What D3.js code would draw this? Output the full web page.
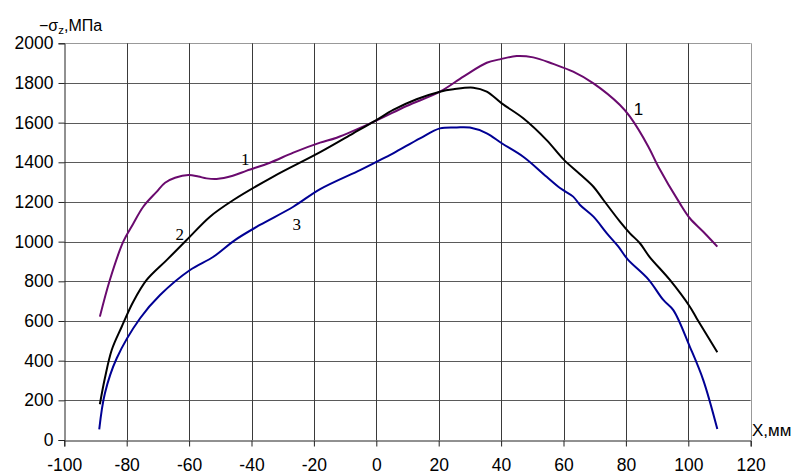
<!DOCTYPE html>
<html>
<head>
<meta charset="utf-8">
<script src="https://cdn.jsdelivr.net/npm/d3@7"></script>
<style>
  body { margin: 0; background: #fff; }
  svg { display: block; font-family: "Liberation Sans", Arial, sans-serif; }
</style>
</head>
<body>
<svg id="chart" width="796" height="475"></svg>
<script>
// data: [x, mm ; -sigma_z, MPa]
var curve1 = [
  [-88.6, 622], [-85.4, 807], [-81.1, 1000], [-78, 1088], [-74.7, 1176],
  [-70.5, 1250], [-67.7, 1297], [-64.5, 1322], [-60.2, 1336], [-57, 1328],
  [-54.4, 1319], [-51.2, 1316], [-46, 1332], [-41.5, 1358], [-34.1, 1398],
  [-26.6, 1449], [-18, 1499], [-12.7, 1524], [0, 1610], [9.7, 1684],
  [20.4, 1756], [27.9, 1832], [35.4, 1902], [39.6, 1919], [45, 1936],
  [50.3, 1929], [56.7, 1896], [63.1, 1857], [69.6, 1798], [78.1, 1689],
  [81.3, 1630], [87.2, 1479], [90.4, 1378], [97.3, 1193], [100.5, 1118],
  [104.8, 1050], [109.3, 975]
];
var curve2 = [
  [-88.6, 180], [-87, 311], [-84.8, 454], [-81.6, 571], [-77.9, 697],
  [-73.6, 807], [-67.2, 907], [-60.8, 1008], [-53.3, 1126], [-45.8, 1210],
  [-33, 1328], [-18, 1451], [-7.4, 1546], [0, 1613], [5.4, 1664],
  [12.9, 1718], [20.4, 1756], [24.7, 1768], [31.1, 1776], [35.4, 1756],
  [40.2, 1697], [47.1, 1622], [54.6, 1512], [60, 1415], [65.3, 1340],
  [69.6, 1277], [72.8, 1210], [78.1, 1101], [81.3, 1042], [84.5, 992],
  [87.5, 925], [94.1, 807], [100.5, 672], [102.7, 613], [109.3, 442]
];
var curve3 = [
  [-88.8, 54], [-87, 235], [-83.2, 412], [-75.7, 614], [-69.3, 731],
  [-59.7, 857], [-52.2, 924], [-45.3, 1008], [-37.3, 1084], [-26.6, 1176],
  [-18, 1265], [-5.2, 1361], [0, 1402], [5.4, 1445], [14, 1521],
  [20.4, 1571], [25.8, 1576], [30, 1575], [35.4, 1546], [40.2, 1496],
  [47.1, 1428], [54.6, 1327], [59, 1269], [63.1, 1227], [65.3, 1185],
  [69.6, 1126], [73.9, 1042], [77.6, 975], [80.5, 912], [87.2, 810],
  [92, 706], [95.2, 655], [100.5, 470], [104.8, 302], [109.3, 55]
];
var xTicks = [-100, -80, -60, -40, -20, 0, 20, 40, 60, 80, 100, 120];
var yTicks = [0, 200, 400, 600, 800, 1000, 1200, 1400, 1600, 1800, 2000];

var plotLeft = 64.3, plotRight = 750.7, plotTop = 43.3, plotBottom = 440;

var svg = d3.select("#chart");

var x = d3.scaleLinear().domain([-100, 120]).range([plotLeft, plotRight]);
var y = d3.scaleLinear().domain([0, 2000]).range([plotBottom, plotTop]);

// grid
var grid = svg.append("g");
grid.selectAll(".hgrid")
  .data(yTicks.filter(function (d) { return d > 0; }))
  .enter()
  .append("line")
  .attr("x1", plotLeft)
  .attr("x2", plotRight)
  .attr("y1", function (d) { return Math.round(y(d)) + 0.5; })
  .attr("y2", function (d) { return Math.round(y(d)) + 0.5; })
  .attr("stroke", function (d) { return d == 2000 ? "#999" : "#5a5a5a"; })
  .attr("stroke-width", 1);
grid.selectAll(".vgrid")
  .data(xTicks.filter(function (d) { return d > -100; }))
  .enter()
  .append("line")
  .attr("y1", plotTop)
  .attr("y2", plotBottom)
  .attr("x1", function (d) { return Math.round(x(d)) + 0.5; })
  .attr("x2", function (d) { return Math.round(x(d)) + 0.5; })
  .attr("stroke", function (d) { return d == 120 ? "#999" : "#3a3a3a"; })
  .attr("stroke-width", 1);

// axes
var xAxis = d3.axisBottom(x).tickValues(xTicks).tickSize(6).tickPadding(12)
  .tickFormat(function (d) { return d; });
var yAxis = d3.axisLeft(y).tickValues(yTicks).tickSize(6).tickPadding(5)
  .tickFormat(function (d) { return d; });

var gx = svg.append("g")
  .attr("transform", "translate(0," + (Math.round(plotBottom) + 0.5) + ")")
  .call(xAxis);
var gy = svg.append("g")
  .attr("transform", "translate(" + (Math.round(plotLeft) + 0.5) + ",0)")
  .call(yAxis);

[gx, gy].forEach(function (g) {
  g.select(".domain").attr("stroke", "#222");
  g.selectAll(".tick line").attr("stroke", "#222");
  g.selectAll(".tick text")
    .attr("fill", "#000")
    .style("font-size", "17.5px")
    .style("font-family", '"Liberation Sans", Arial, sans-serif');
});

// curves
var line = d3.line()
  .x(function (d) { return x(d[0]); })
  .y(function (d) { return y(d[1]); })
  .curve(d3.curveCatmullRom.alpha(0.5));

var series = [
  { data: curve1, color: "#6a0a6e" },
  { data: curve2, color: "#000000" },
  { data: curve3, color: "#000094" }
];
svg.append("g")
  .selectAll("path")
  .data(series)
  .enter()
  .append("path")
  .attr("d", function (d) { return line(d.data); })
  .attr("fill", "none")
  .attr("stroke", function (d) { return d.color; })
  .attr("stroke-width", 2)
  .attr("stroke-linejoin", "round");

// curve labels
var labels = [
  { t: "1", px: -42, py: 1415, font: "Liberation Serif" },
  { t: "2", px: -63, py: 1040, font: "Liberation Serif" },
  { t: "3", px: -25.5, py: 1090, font: "Liberation Serif" },
  { t: "1", px: 84, py: 1670, font: "Liberation Sans" }
];
svg.append("g")
  .selectAll("text")
  .data(labels)
  .enter()
  .append("text")
  .attr("x", function (d) { return x(d.px); })
  .attr("y", function (d) { return y(d.py); })
  .attr("text-anchor", "middle")
  .attr("dy", "0.35em")
  .style("font-family", function (d) { return '"' + d.font + '"'; })
  .style("font-size", "17px")
  .text(function (d) { return d.t; });

// axis titles
var yTitle = svg.append("text")
  .attr("x", 39)
  .attr("y", 31)
  .style("font-size", "16px");
yTitle.append("tspan").text("\u2212\u03c3");
yTitle.append("tspan").attr("dy", 3).style("font-size", "11.5px").text("z");
yTitle.append("tspan").attr("dy", -3).text(",\u041c\u041f\u0430");

svg.append("text")
  .attr("x", 752)
  .attr("y", 436)
  .style("font-size", "17px")
  .text("X,\u043c\u043c");
</script>
</body>
</html>
